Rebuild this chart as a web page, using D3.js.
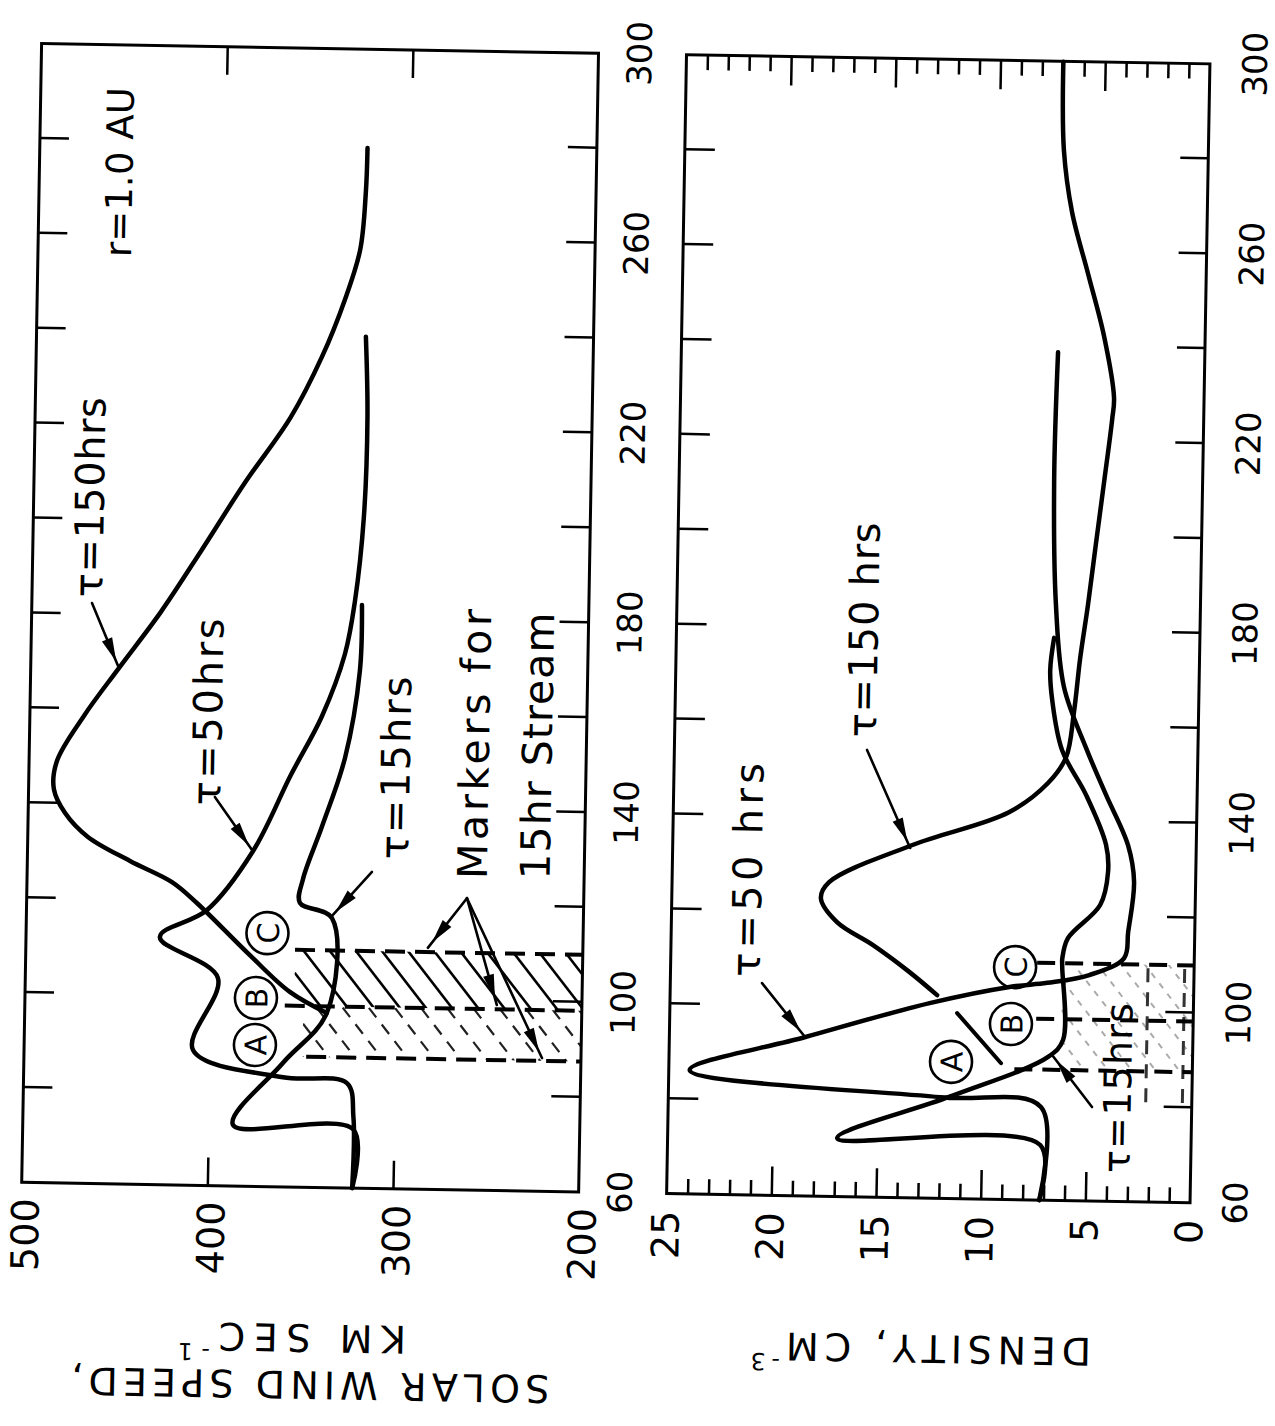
<!DOCTYPE html>
<html>
<head>
<meta charset="utf-8">
<script src="https://cdn.jsdelivr.net/npm/d3@7"></script>
<style>
  html, body { margin: 0; padding: 0; background: #fff; }
  svg { display: block; }
</style>
</head>
<body>
<svg id="fig" width="1275" height="1426"></svg>
<script>
// ---- axis ticks -------------------------------------------------------
const timeLabels = [60, 100, 140, 180, 220, 260, 300];
const timeTicks = [80, 100, 120, 140, 160, 180, 200, 220, 240, 260, 280];
const speedLabels = [500, 400, 300, 200];
const speedTicks = [400, 300];
const densityLabels = [25, 20, 15, 10, 5, 0];
const densityMajorTicks = [20, 15, 10, 5];
const densityMinorTicks = [1, 2, 3, 4, 6, 7, 8, 9, 11, 12, 13, 14, 16, 17, 18, 19, 21, 22, 23, 24];

// ---- solar wind speed, km/s, against time in hours ---------------------
const speedTau15 = [[60, 322], [72.4, 322], [72.9, 386.8], [86.1, 360.5], [96.8, 337.3], [116.8, 335.4],
  [119.9, 352.8], [124.9, 351.4], [136, 341.7], [150.6, 329.9], [169, 322.7], [182.9, 322.2]];
const speedTau50 = [[60, 322], [75, 322], [82.1, 325.8], [83.1, 360.3], [88.5, 409], [103.8, 396.3],
  [112.2, 427.9], [118, 402.9], [130.6, 378.6], [146.8, 358.9], [159.3, 342.7], [172.5, 330.9],
  [183.7, 326], [201.4, 322], [222.5, 321], [239.4, 322.6]];
const speedTau150 = [[96.8, 337.3], [101.1, 357.4], [108.7, 379.3], [119.5, 408.3], [123.8, 421.9],
  [128.1, 444.7], [133, 467.6], [138, 480.2], [143, 486.4], [148.9, 485], [158.5, 470.9], [168.7, 452.5],
  [180.7, 430.4], [193.9, 409], [208.2, 386.4], [222.2, 362.3], [235, 346.1], [247.1, 334.3],
  [257.7, 326.5], [269.7, 324], [279.2, 323.5]];

// ---- density, cm^-3, against time in hours ------------------------------
const densityTau15 = [[60, 7.2], [71.6, 7.2], [72.3, 16.9], [81.4, 11.6], [90.2, 6.9], [93.8, 6.2],
  [109.2, 6.3], [111.1, 6.3], [115.3, 6.05], [122.4, 4.54], [129.4, 4.19], [135.1, 4.31], [145.5, 5.3],
  [154.9, 6.49], [165.4, 7.0], [171.7, 7.12], [178.5, 6.96]];
const densityTau50 = [[60, 7.2], [79.6, 7.2], [81.3, 12.0], [86.1, 24.0], [93.5, 18.5], [101.1, 12.6],
  [104.8, 8.8], [105.8, 7.0], [107.6, 5.0], [111.3, 3.35], [116.8, 3.18], [127.4, 2.94], [135.1, 3.26],
  [145.6, 4.35], [155.4, 5.34], [168.2, 6.45], [185.4, 6.9], [211.6, 7.09], [238.7, 7.01]];
const densityTau150 = [[102.8, 12.25], [107.6, 13.6], [113.1, 15.35], [117.8, 17.09], [122.8, 17.88],
  [126.2, 17.5], [134.4, 13.52], [141.6, 8.97], [147.9, 7.13], [153.4, 6.29], [163, 5.95], [174.3, 5.7],
  [185.6, 5.37], [198.6, 5.04], [211.7, 4.7], [224.8, 4.37], [229.3, 4.3], [242.3, 4.83], [255.3, 5.64],
  [268.3, 6.46], [281.3, 6.9], [299.9, 7.0]];

// ---- markers for the 15 hr stream --------------------------------------
const markerNames = ["A", "B", "C"];
const markerTimes = [87.5, 98.2, 110];

// ---- layout -------------------------------------------------------------
const FONT = "'DejaVu Sans', sans-serif";
const svg = d3.select("#fig");
const defs = svg.append("defs");
// whole sheet sits slightly askew; the figure itself is turned on its side
const page = svg.append("g").attr("transform", "rotate(1,637,713)");
const fig = page.append("g").attr("transform", "translate(0,1426) rotate(-90)");

const x = d3.scaleLinear().domain([60, 300]).range([233, 1372]);
const yS = d3.scaleLinear().domain([200, 500]).range([587, 30]);
const yD = d3.scaleLinear().domain([0, 25]).range([1198.5, 675]);

function tidy(sel, size) {
  sel.select(".domain").remove();
  sel.selectAll(".tick line").attr("stroke", "#000").attr("stroke-width", 2.5);
  sel.selectAll(".tick text").attr("fill", "#000");
  sel.attr("font-family", FONT).attr("font-size", size || 10);
}

// ---- hatched marker bands (drawn first, under the curves) ---------------
function hatch(id, xa, xb, ya, yb, spacing, style) {
  const x0 = Math.min(xa, xb), x1 = Math.max(xa, xb), y0 = Math.min(ya, yb), y1 = Math.max(ya, yb);
  defs.append("clipPath").attr("id", id)
    .append("rect").attr("x", x0).attr("y", y0).attr("width", x1 - x0).attr("height", y1 - y0);
  const g = fig.append("g").attr("clip-path", `url(#${id})`);
  const h = y1 - y0;
  const cs = d3.range(x0, x1 + h * 1.25 + spacing, spacing);
  g.selectAll("line").data(cs).join("line")
    .attr("x1", c => c).attr("y1", y0)
    .attr("x2", c => c - h * 1.25).attr("y2", y1)
    .attr("stroke", style.color).attr("stroke-width", style.width)
    .attr("stroke-dasharray", style.dash || null);
}
hatch("hS1", x(markerTimes[1]), x(markerTimes[2]), yS(355), yS(200), 33, { color: "#000", width: 2.6 });
hatch("hS2", x(markerTimes[0]), x(markerTimes[1]), yS(350), yS(200), 33, { color: "#222", width: 2.2, dash: "12,9" });
hatch("hD1", x(markerTimes[0]), x(markerTimes[2]), yD(6.3), yD(0), 30, { color: "#aaa", width: 2, dash: "6,7" });

// dotted strips inside the density band
[2.2, 0.45].forEach(n => {
  fig.append("line").attr("x1", x(81)).attr("x2", x(markerTimes[2]))
    .attr("y1", yD(n)).attr("y2", yD(n))
    .attr("stroke", "#333").attr("stroke-width", 3).attr("stroke-dasharray", "14,10");
});

// marker lines
const speedMarkerStart = [348, 360, 355];
const densityMarkerStart = [8.5, 7.5, 7.5];
markerTimes.forEach((t, i) => {
  fig.append("line").attr("x1", x(t)).attr("x2", x(t))
    .attr("y1", yS(speedMarkerStart[i])).attr("y2", yS(200))
    .attr("stroke", "#000").attr("stroke-width", 4).attr("stroke-dasharray", "20,10");
  fig.append("line").attr("x1", x(t)).attr("x2", x(t))
    .attr("y1", yD(densityMarkerStart[i])).attr("y2", yD(0))
    .attr("stroke", "#000").attr("stroke-width", 4).attr("stroke-dasharray", "18,10");
});

// ---- frames -------------------------------------------------------------
[[yS(500), yS(200)], [yD(25), yD(0)]].forEach(([top, bot]) => {
  fig.append("rect").attr("x", x(60)).attr("y", top)
    .attr("width", x(300) - x(60)).attr("height", bot - top)
    .attr("fill", "none").attr("stroke", "#000").attr("stroke-width", 3);
});

// ---- inner ticks --------------------------------------------------------
fig.append("g").attr("transform", `translate(0,${yS(500)})`)
  .call(d3.axisBottom(x).tickValues(timeTicks).tickSize(29).tickFormat("")).call(tidy);
fig.append("g").attr("transform", `translate(0,${yS(200)})`)
  .call(d3.axisTop(x).tickValues(timeTicks).tickSize(29).tickFormat("")).call(tidy);
fig.append("g").attr("transform", `translate(${x(60)},0)`)
  .call(d3.axisRight(yS).tickValues(speedTicks).tickSize(28).tickFormat("")).call(tidy);
fig.append("g").attr("transform", `translate(${x(300)},0)`)
  .call(d3.axisLeft(yS).tickValues(speedTicks).tickSize(28).tickFormat("")).call(tidy);

fig.append("g").attr("transform", `translate(0,${yD(25)})`)
  .call(d3.axisBottom(x).tickValues(timeTicks).tickSize(30).tickFormat("")).call(tidy);
fig.append("g").attr("transform", `translate(0,${yD(0)})`)
  .call(d3.axisTop(x).tickValues(timeTicks).tickSize(28).tickFormat("")).call(tidy);
[[x(60), d3.axisRight], [x(300), d3.axisLeft]].forEach(([px, ax]) => {
  fig.append("g").attr("transform", `translate(${px},0)`)
    .call(ax(yD).tickValues(densityMinorTicks).tickSize(15).tickFormat("")).call(tidy);
  fig.append("g").attr("transform", `translate(${px},0)`)
    .call(ax(yD).tickValues(densityMajorTicks).tickSize(29).tickFormat("")).call(tidy);
});

// ---- tick labels --------------------------------------------------------
fig.append("g").attr("transform", `translate(0,${yS(200)})`)
  .call(d3.axisBottom(x).tickValues(timeLabels).tickSize(0).tickPadding(29).tickFormat(d3.format("d")))
  .call(s => tidy(s, 34));
fig.append("g").attr("transform", `translate(0,${yD(0)})`)
  .call(d3.axisBottom(x).tickValues(timeLabels).tickSize(0).tickPadding(33).tickFormat(d3.format("d")))
  .call(s => tidy(s, 34));
fig.append("g").attr("transform", `translate(${x(60)},0)`)
  .call(d3.axisLeft(yS).tickValues(speedLabels).tickSize(0).tickPadding(16).tickFormat(d3.format("d")))
  .call(s => tidy(s, 38))
  .call(s => s.selectAll(".tick text").attr("dy", 17));
fig.append("g").attr("transform", `translate(${x(60)},0)`)
  .call(d3.axisLeft(yD).tickValues(densityLabels).tickSize(0).tickPadding(17).tickFormat(d3.format("d")))
  .call(s => tidy(s, 38));

// ---- axis titles --------------------------------------------------------
function title(cx, cy, parts, len, size) {
  const t = fig.append("text")
    .attr("transform", `translate(${cx},${cy}) rotate(-90)`)
    .attr("text-anchor", "middle").attr("dominant-baseline", "central")
    .attr("font-family", FONT).attr("font-size", size).attr("fill", "#000")
    .attr("textLength", len).attr("lengthAdjust", "spacing");
  parts.forEach(p => {
    const ts = t.append("tspan").text(p.text);
    if (p.sup) ts.attr("font-size", size * 0.62).attr("dy", -size * 0.42);
  });
}
title(36, 322, [{ text: "SOLAR WIND SPEED," }], 478, 38);
title(83, 303, [{ text: "KM SEC" }, { text: "-1", sup: true }], 228, 38);
title(83, 932, [{ text: "DENSITY, CM" }, { text: "-3", sup: true }], 340, 38);

// ---- curves -------------------------------------------------------------
const lineS = d3.line().x(d => x(d[0])).y(d => yS(d[1])).curve(d3.curveCatmullRom.alpha(0.5));
const lineD = d3.line().x(d => x(d[0])).y(d => yD(d[1])).curve(d3.curveCatmullRom.alpha(0.5));
[speedTau15, speedTau50, speedTau150].forEach(s => {
  fig.append("path").attr("d", lineS(s)).attr("fill", "none").attr("stroke", "#000")
    .attr("stroke-width", 4.5).attr("stroke-linejoin", "round").attr("stroke-linecap", "round");
});
[densityTau15, densityTau50, densityTau150].forEach(s => {
  fig.append("path").attr("d", lineD(s)).attr("fill", "none").attr("stroke", "#000")
    .attr("stroke-width", 4.5).attr("stroke-linejoin", "round").attr("stroke-linecap", "round");
});

// ---- annotations --------------------------------------------------------
function arrow(p1, p2) {
  fig.append("line").attr("x1", p1[0]).attr("y1", p1[1]).attr("x2", p2[0]).attr("y2", p2[1])
    .attr("stroke", "#000").attr("stroke-width", 2.6).attr("stroke-linecap", "round");
  const dx = p2[0] - p1[0], dy = p2[1] - p1[1], L = Math.hypot(dx, dy);
  const ux = dx / L, uy = dy / L, nx = -uy, ny = ux;
  const tip = [p2[0] - ux * 7, p2[1] - uy * 7];
  const base = [tip[0] - ux * 24, tip[1] - uy * 24];
  fig.append("polygon")
    .attr("points", [tip, [base[0] + nx * 5.5, base[1] + ny * 5.5], [base[0] - nx * 5.5, base[1] - ny * 5.5]]
      .map(p => p.join(",")).join(" "))
    .attr("fill", "#000");
}
const pS = (t, v) => [x(t), yS(v)];
const pD = (t, v) => [x(t), yD(v)];

arrow(pS(182.3, 467.6), pS(168.7, 452.5));
arrow(pS(141.9, 399.6), pS(130.6, 378.6));
arrow(pS(126.7, 314.3), pS(117, 336));
arrow(pS(121.5, 262.9), pS(110.9, 283.5));
arrow(pS(121.5, 262.9), pS(99.1, 245.8));
arrow(pS(121.5, 262.9), pS(88.1, 221));
arrow(pD(104.7, 20.62), pD(93.5, 18.52));
arrow(pD(154.2, 15.8), pD(133.7, 13.66));
arrow(pD(79.8, 4.76), pD(90.6, 6.71));

// leader stroke between density markers A and B
fig.append("line").attr("x1", x(99.1)).attr("y1", yD(11.28)).attr("x2", x(88.7)).attr("y2", yD(9.14))
  .attr("stroke", "#000").attr("stroke-width", 4).attr("stroke-linecap", "round");

function label(p, txt, size, len) {
  const t = fig.append("text").attr("x", p[0]).attr("y", p[1])
    .attr("text-anchor", "middle").attr("dominant-baseline", "central")
    .attr("font-family", FONT).attr("font-size", size).attr("fill", "#000").text(txt);
  if (len) t.attr("textLength", len).attr("lengthAdjust", "spacing");
}
label(pS(273.2, 456.6), "r=1.0 AU", 37, 170);
label(pS(204.6, 469.7), "τ=150hrs", 40, 200);
label(pS(159.8, 404.1), "τ=50hrs", 40, 187);
label(pS(148.7, 302.4), "τ=15hrs", 40, 183);
label(pS(154, 260), "Markers  for", 41, 270);
label(pS(153.8, 226.1), "15hr Stream", 41, 267);
label(pD(128.5, 21.4), "τ=50 hrs", 40, 214);
label(pD(179.5, 16.05), "τ=150 hrs", 40, 215);
label(pD(83.9, 3.53), "τ=15hrs", 38, 170);

// circled marker letters
const speedCircles = [[89.8, 375.7], [99.7, 375.6], [113.4, 370]];
const densityCircles = [[88.8, 11.53], [97, 8.7], [109, 8.55]];
function circled(p, letter) {
  fig.append("circle").attr("cx", p[0]).attr("cy", p[1]).attr("r", 21)
    .attr("fill", "none").attr("stroke", "#000").attr("stroke-width", 2.6);
  fig.append("text").attr("x", p[0]).attr("y", p[1] + 1)
    .attr("text-anchor", "middle").attr("dominant-baseline", "central")
    .attr("font-family", FONT).attr("font-size", 30).attr("fill", "#000").text(letter);
}
speedCircles.forEach((c, i) => circled(pS(c[0], c[1]), markerNames[i]));
densityCircles.forEach((c, i) => circled(pD(c[0], c[1]), markerNames[i]));
</script>
</body>
</html>
